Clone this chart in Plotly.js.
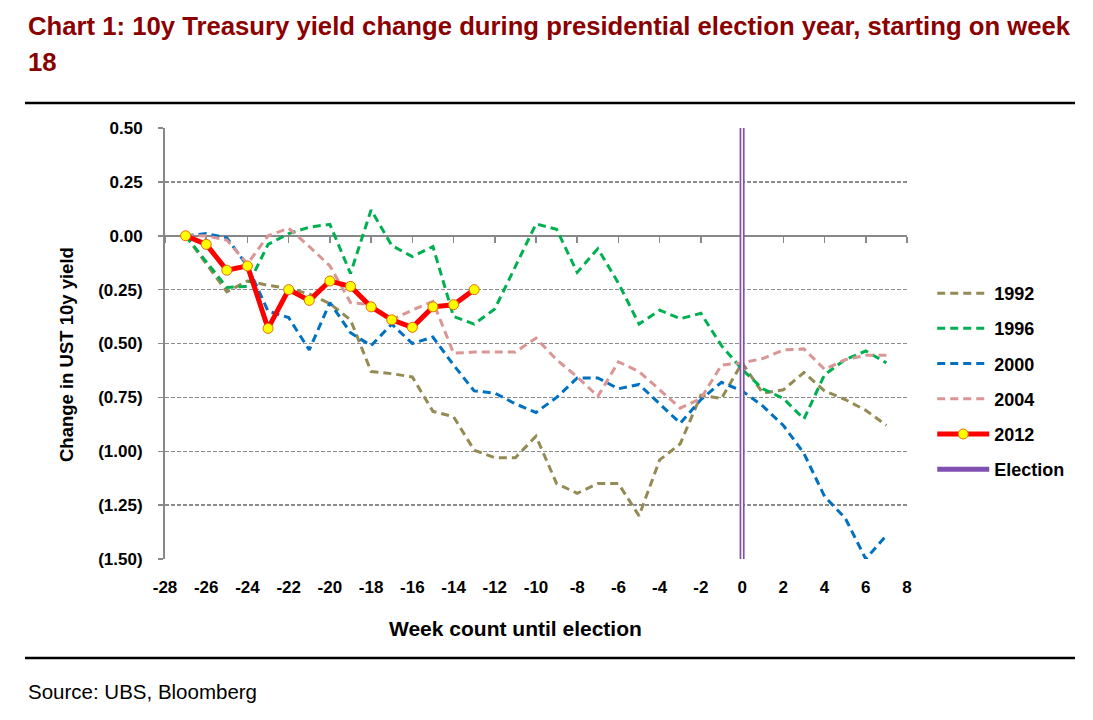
<!DOCTYPE html>
<html>
<head>
<meta charset="utf-8">
<script src="https://cdn.plot.ly/plotly-3.0.1.min.js"></script>
<style>html,body{margin:0;padding:0;background:#fff;}#chart{width:1093px;height:720px;}</style>
</head>
<body>
<div id="chart"></div>
<script>
const weeks = [-27,-26,-25,-24,-23,-22,-21,-20,-19,-18,-17,-16,-15,-14,-13,-12,-11,-10,-9,-8,-7,-6,-5,-4,-3,-2,-1,0,1,2,3,4,5,6,7];
const weeks2012 = [-27,-26,-25,-24,-23,-22,-21,-20,-19,-18,-17,-16,-15,-14,-13];
const y1992 = [0,-0.13,-0.26,-0.21,-0.23,-0.245,-0.27,-0.315,-0.39,-0.63,-0.64,-0.655,-0.815,-0.84,-0.995,-1.03,-1.03,-0.93,-1.15,-1.195,-1.15,-1.15,-1.30,-1.04,-0.965,-0.74,-0.755,-0.59,-0.73,-0.715,-0.635,-0.72,-0.76,-0.81,-0.88];
const y1996 = [0,-0.12,-0.24,-0.235,-0.04,0.01,0.04,0.053,-0.175,0.12,-0.045,-0.097,-0.05,-0.375,-0.41,-0.34,-0.14,0.055,0.03,-0.17,-0.06,-0.22,-0.41,-0.345,-0.385,-0.36,-0.51,-0.62,-0.71,-0.755,-0.85,-0.645,-0.575,-0.535,-0.59];
const y2000 = [0,0.01,-0.01,-0.14,-0.35,-0.38,-0.53,-0.31,-0.45,-0.51,-0.41,-0.50,-0.47,-0.60,-0.72,-0.73,-0.78,-0.82,-0.75,-0.66,-0.66,-0.71,-0.69,-0.78,-0.87,-0.76,-0.68,-0.72,-0.79,-0.88,-1.01,-1.21,-1.31,-1.50,-1.39];
const y2004 = [0,0.0,-0.02,-0.13,0.0,0.035,-0.05,-0.14,-0.31,-0.32,-0.39,-0.345,-0.305,-0.545,-0.54,-0.54,-0.54,-0.475,-0.575,-0.655,-0.745,-0.585,-0.63,-0.715,-0.80,-0.755,-0.60,-0.59,-0.57,-0.53,-0.525,-0.62,-0.575,-0.555,-0.555];
const y2012 = [0,-0.04,-0.16,-0.14,-0.43,-0.25,-0.30,-0.21,-0.235,-0.33,-0.39,-0.425,-0.33,-0.32,-0.25];
const electionX = [0,0];
const electionY = [0.5,-1.5];
const yTickVals = [0.5,0.25,0,-0.25,-0.5,-0.75,-1,-1.25,-1.5];
const yTickText = ['0.50','0.25','0.00','(0.25)','(0.50)','(0.75)','(1.00)','(1.25)','(1.50)'];
const xTickVals = [-28,-26,-24,-22,-20,-18,-16,-14,-12,-10,-8,-6,-4,-2,0,2,4,6,8];
const xTickText = ['-28','-26','-24','-22','-20','-18','-16','-14','-12','-10','-8','-6','-4','-2','0','2','4','6','8'];

const FONT = 'Arial, "Liberation Sans", sans-serif';
const dashPat = '8px,5px';

function dashed(name, y, color, grp){
  return {x: weeks, y: y, name: name, type: 'scatter', mode: 'lines',
    line: {color: color, width: 3, dash: dashPat}, legendgroup: grp, hoverinfo: 'skip'};
}
const traces = [
  dashed('1992', y1992, '#948A54', 'g1'),
  dashed('1996', y1996, '#00B050', 'g2'),
  dashed('2000', y2000, '#0070C0', 'g3'),
  dashed('2004', y2004, '#D99694', 'g4'),
  {x: weeks2012, y: y2012, name: '2012', type: 'scatter', mode: 'lines+markers',
   line: {color: '#FF0000', width: 5},
   marker: {size: 10, color: '#FFFF00', line: {color: '#E46C0A', width: 1}},
   legendgroup: 'g5', hoverinfo: 'skip'},
  {x: electionX, y: electionY, name: 'Election', type: 'scatter', mode: 'lines', xaxis: 'x2',
   line: {color: '#8050B0', width: 5}, legendgroup: 'g6', hoverinfo: 'skip'},
  {x: electionX, y: electionY, name: 'Election', type: 'scatter', mode: 'lines', xaxis: 'x2',
   line: {color: '#FFFFFF', width: 1.6}, legendgroup: 'g6', showlegend: false, hoverinfo: 'skip'}
];

const TFONT = {family: FONT, size: 25.7, weight: 700, color: '#8B0000'};
const layout = {
  width: 1093, height: 720,
  margin: {l: 165, r: 186, t: 128, b: 161},
  paper_bgcolor: '#fff', plot_bgcolor: '#fff',
  font: {family: FONT, color: '#000'},
  showlegend: true,
  legend: {x: 1.034, xanchor: 'left', y: 0.659, yanchor: 'top', traceorder: 'grouped',
    tracegroupgap: 8.8, itemwidth: 52, font: {family: FONT, size: 18, weight: 700, color: '#000'},
    bgcolor: 'rgba(0,0,0,0)'},
  xaxis: {range: [-28, 8], tickvals: xTickVals, ticktext: xTickText, showgrid: false, zeroline: false, showline: false,
    ticks: '', tickfont: {family: FONT, size: 17, weight: 700, color: '#000'}, ticklabelstandoff: 16,
    fixedrange: true},
  xaxis2: {overlaying: 'x', anchor: 'free', position: 0.75, side: 'bottom', range: [-28, 8],
    tickvals: xTickVals, showgrid: false, zeroline: false, showline: true, linecolor: '#888',
    linewidth: 2, ticks: 'outside', ticklen: 6, tickwidth: 1.5, tickcolor: '#888',
    showticklabels: false, layer: 'below traces', fixedrange: true},
  yaxis: {range: [-1.5, 0.5], tickvals: yTickVals, ticktext: yTickText, showgrid: true,
    gridcolor: '#8C8C8C', gridwidth: 1.3, griddash: '4px,2px', zeroline: false,
    showline: true, linecolor: '#888', linewidth: 2, ticks: 'outside', ticklen: 5,
    tickcolor: '#888', tickwidth: 1.5, tickfont: {family: FONT, size: 17, weight: 700, color: '#000'},
    ticklabelstandoff: 12, layer: 'below traces', fixedrange: true},
  annotations: [
    {text: 'Chart 1: 10y Treasury yield change during presidential election year, starting on week',
     xref: 'paper', yref: 'paper', x: -0.1873, y: 1.236, xanchor: 'left', yanchor: 'middle', align: 'left',
     showarrow: false, font: TFONT},
    {text: '18',
     xref: 'paper', yref: 'paper', x: -0.1873, y: 1.152, xanchor: 'left', yanchor: 'middle', align: 'left',
     showarrow: false, font: TFONT},
    {text: 'Week count until election', xref: 'paper', yref: 'paper', x: 0.4717, y: -0.162,
     xanchor: 'center', yanchor: 'middle', showarrow: false,
     font: {family: FONT, size: 21, weight: 700, color: '#000'}},
    {text: 'Change in UST 10y yield', xref: 'paper', yref: 'paper', x: -0.1334, y: 0.4733,
     xanchor: 'center', yanchor: 'middle', textangle: -90, showarrow: false,
     font: {family: FONT, size: 18.5, weight: 700, color: '#000'}},
    {text: 'Source: UBS, Bloomberg', xref: 'paper', yref: 'paper', x: -0.1873, y: -0.276,
     xanchor: 'left', yanchor: 'top', showarrow: false,
     font: {family: FONT, size: 20.5, color: '#000'}}
  ],
  shapes: [
    {type: 'line', xref: 'paper', yref: 'paper', x0: -0.1887, x1: 1.2264, y0: 1.058, y1: 1.058,
     line: {color: '#000', width: 2.5}},
    {type: 'line', xref: 'paper', yref: 'paper', x0: -0.1887, x1: 1.2264, y0: -0.2297, y1: -0.2297,
     line: {color: '#000', width: 2.5}}
  ]
};

Plotly.newPlot('chart', traces, layout, {displayModeBar: false, staticPlot: true});
</script>
</body>
</html>
